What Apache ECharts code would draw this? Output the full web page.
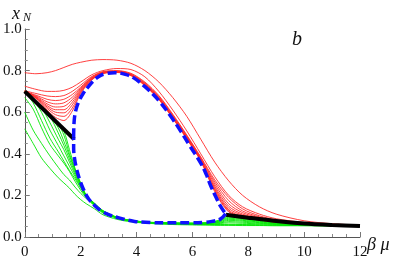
<!DOCTYPE html>
<html><head><meta charset="utf-8">
<script src="https://cdn.jsdelivr.net/npm/echarts@6/dist/echarts.min.js"></script>
<style>html,body{margin:0;padding:0;background:#fff}#c{width:399px;height:261px}</style>
</head><body><div id="c"></div>
<script>
// ---- data ----
const xTicks = [0, 2, 4, 6, 8, 10, 12];
const yTicks = [0.0, 0.2, 0.4, 0.6, 0.8, 1.0];

const redX = [0, 0.4, 0.8, 1.1, 1.4, 1.7, 2.0, 2.4, 2.8, 3.3, 3.8, 4.3, 4.8, 5.3, 5.8, 6.3, 6.8, 7.3, 7.8, 8.4, 9, 10, 11, 12];
const red0 = [.79, .785, .79, .80, .815, .83, .84, .85, .853, .85, .835, .80, .745, .67, .58, .47, .36, .27, .2, .145, .11, .078, .064, .057];
const red1 = [.725, .71, .70, .70, .705, .72, .745, .78, .80, .81, .805, .77, .70, .61, .51, .40, .29, .20, .145, .11, .088, .07, .061, .056];
const red2 = [.703, .69, .678, .675, .68, .70, .73, .772, .795, .80, .787, .745, .68, .59, .49, .385, .275, .19, .135, .102, .083, .067, .06, .056];
const red3 = [.70, .682, .662, .656, .662, .685, .72, .768, .793, .798, .784, .741, .676, .586, .487, .381, .265, .175, .125, .097, .08, .066, .059, .056];
const red4 = [.70, .678, .65, .64, .645, .672, .715, .765, .791, .796, .782, .738, .672, .582, .483, .377, .255, .16, .117, .093, .078, .065, .059, .055];
const red5 = [.70, .675, .64, .625, .628, .66, .71, .763, .79, .795, .78, .735, .669, .579, .48, .374, .245, .148, .11, .09, .076, .064, .058, .055];
const red6 = [.70, .672, .632, .612, .612, .648, .705, .761, .789, .794, .779, .733, .667, .576, .477, .371, .237, .138, .105, .087, .074, .063, .058, .055];
const red7 = [.70, .67, .625, .60, .597, .635, .70, .759, .788, .793, .778, .731, .665, .574, .475, .369, .23, .13, .10, .085, .073, .063, .057, .055];
const red8 = [.70, .668, .618, .588, .58, .62, .695, .757, .787, .792, .777, .729, .663, .572, .473, .367, .224, .124, .097, .083, .072, .062, .057, .055];
const red9 = [.70, .666, .61, .575, .56, .605, .69, .755, .786, .791, .776, .727, .661, .57, .471, .365, .218, .12, .095, .082, .071, .062, .057, .055];

const greenX = [0, 0.3, 0.6, 0.9, 1.2, 1.4, 1.6, 1.8, 2.0, 2.2, 2.5, 2.8, 3.3, 3.8, 4.5, 5.3, 6.0, 6.6, 7.0, 7.3, 7.8, 8.4, 9, 10, 11, 12];
const green0 = [.52, .45, .38, .33, .285, .26, .235, .205, .18, .16, .135, .107, .085, .073, .065, .06, .058, .057, .056, .056, .055, .055, .054, .054, .053, .053];
const green1 = [.60, .514, .45, .39, .335, .30, .274, .24, .21, .185, .15, .115, .09, .076, .067, .062, .06, .059, .058, .058, .058, .057, .056, .055, .054, .054];
const green2 = [.67, .615, .525, .445, .39, .355, .315, .268, .225, .19, .152, .118, .092, .077, .068, .063, .061, .06, .06, .061, .06, .059, .058, .056, .055, .054];
const green3 = [.70, .645, .56, .475, .41, .365, .32, .28, .235, .195, .155, .121, .092, .077, .068, .065, .063, .063, .065, .068, .066, .063, .06, .057, .055, .054];
const green4 = [.70, .661, .60, .514, .44, .39, .34, .29, .24, .196, .157, .122, .093, .078, .069, .065, .064, .065, .068, .074, .071, .066, .062, .058, .056, .054];
const green5 = [.70, .661, .622, .55, .47, .42, .36, .30, .245, .197, .158, .123, .093, .078, .069, .066, .064, .066, .071, .08, .076, .069, .064, .059, .056, .055];
const green6 = [.70, .661, .622, .58, .50, .44, .375, .31, .25, .199, .159, .124, .094, .079, .07, .066, .065, .067, .074, .085, .08, .072, .066, .06, .057, .055];
const green7 = [.70, .661, .622, .583, .525, .46, .39, .32, .255, .20, .16, .125, .094, .079, .07, .067, .066, .068, .077, .09, .084, .075, .068, .061, .057, .055];
const green8 = [.70, .661, .622, .583, .543, .49, .40, .325, .258, .201, .161, .126, .095, .08, .07, .067, .066, .069, .08, .095, .088, .078, .07, .062, .058, .055];
const green9 = [.70, .661, .622, .583, .544, .51, .42, .33, .26, .202, .162, .127, .095, .08, .071, .068, .067, .07, .083, .10, .091, .08, .071, .063, .058, .055];

const blackLeftX = [0, 1.77];
const blackLeftY = [0.70, 0.47];
const blackRightX = [7.2, 8, 9, 10, 11, 12];
const blackRightY = [0.107, 0.093, 0.077, 0.065, 0.058, 0.053];

const blueTopX = [1.75, 1.77, 1.83, 1.93, 2.09, 2.27, 2.45, 2.65, 2.86, 3.22, 3.6, 3.9, 4.28, 4.6, 4.88, 5.2, 5.53, 5.9, 6.3, 6.5, 6.66, 6.85, 7.0, 7.19];
const blueTopY = [0.48, 0.56, 0.61, 0.65, 0.69, 0.722, 0.75, 0.772, 0.784, 0.79, 0.782, 0.765, 0.725, 0.685, 0.643, 0.585, 0.52, 0.44, 0.355, 0.30, 0.245, 0.19, 0.15, 0.112];
const blueBottomX = [7.19, 7.0, 6.7, 6.42, 6.0, 5.6, 5.0, 4.5, 3.93, 3.34, 3.0, 2.74, 2.5, 2.27, 2.1, 1.97, 1.85, 1.78, 1.75, 1.75];
const blueBottomY = [0.112, 0.086, 0.075, 0.07, 0.068, 0.068, 0.068, 0.07, 0.075, 0.093, 0.108, 0.125, 0.152, 0.186, 0.23, 0.274, 0.33, 0.38, 0.43, 0.48];

// ---- build chart ----
const pairs = (xs, ys) => xs.map((x, i) => [x, ys[i]]);
const redCurves = [red0, red1, red2, red3, red4, red5, red6, red7, red8, red9];
const greenCurves = [green0, green1, green2, green3, green4, green5, green6, green7, green8, green9];

const series = [];
greenCurves.forEach(ys => series.push({
  type: 'line', data: pairs(greenX, ys), showSymbol: false, smooth: 0.3,
  lineStyle: { color: '#00e600', width: 0.9 }, silent: true, z: 2
}));
redCurves.forEach(ys => series.push({
  type: 'line', data: pairs(redX, ys), showSymbol: false, smooth: 0.3,
  lineStyle: { color: '#ff2a2a', width: 0.9 }, silent: true, z: 3
}));
series.push({ type: 'line', data: pairs(blackLeftX, blackLeftY), showSymbol: false,
  lineStyle: { color: '#000', width: 4 }, silent: true, z: 4 });
series.push({ type: 'line', data: pairs(blackRightX, blackRightY), showSymbol: false, smooth: 0.3,
  lineStyle: { color: '#000', width: 4 }, silent: true, z: 4 });
series.push({ type: 'line', data: pairs(blueTopX, blueTopY), showSymbol: false, smooth: 0.4,
  lineStyle: { color: '#1010ff', width: 3.5, type: [9, 4] }, silent: true, z: 5 });
series.push({ type: 'line', data: pairs(blueBottomX, blueBottomY), showSymbol: false, smooth: 0.4,
  lineStyle: { color: '#1010ff', width: 3.5, type: [9, 4] }, silent: true, z: 5 });

const serif = 'Liberation Serif';
const chart = echarts.init(document.getElementById('c'), null, { renderer: 'canvas' });
chart.setOption({
  animation: false,
  backgroundColor: '#fff',
  grid: { left: 23, right: 39, top: 29, bottom: 24, containLabel: false },
  xAxis: {
    type: 'value', min: xTicks[0], max: xTicks[xTicks.length - 1], interval: 2,
    axisLine: { lineStyle: { color: '#555', width: 1 } },
    axisTick: { inside: true, length: 5, lineStyle: { color: '#777' } },
    minorTick: { show: true, splitNumber: 4, length: 3, lineStyle: { color: '#888' } },
    splitLine: { show: false },
    axisLabel: { margin: 8, fontFamily: serif, fontSize: 15, color: '#111' }
  },
  yAxis: {
    type: 'value', min: yTicks[0], max: yTicks[yTicks.length - 1], interval: 0.2,
    axisLine: { show: true, lineStyle: { color: '#555', width: 1 } },
    axisTick: { show: true, inside: true, length: 5, lineStyle: { color: '#777' } },
    minorTick: { show: true, splitNumber: 4, length: 3, lineStyle: { color: '#888' } },
    splitLine: { show: false },
    axisLabel: { margin: 3, fontFamily: serif, fontSize: 15, color: '#111', formatter: v => v.toFixed(1) }
  },
  graphic: [
    { type: 'text', x: 12, y: 14, style: { text: 'x', font: 'italic 18px "Liberation Serif"', fill: '#111', textVerticalAlign: 'middle' } },
    { type: 'text', x: 23, y: 17.5, style: { text: 'N', font: 'italic 12px "Liberation Serif"', fill: '#111', textVerticalAlign: 'middle' } },
    { type: 'text', x: 367, y: 245, style: { text: 'β μ', font: 'italic 18px "Liberation Serif"', fill: '#111', textVerticalAlign: 'middle' } },
    { type: 'text', x: 292, y: 40, style: { text: 'b', font: 'italic 20px "Liberation Serif"', fill: '#111', textVerticalAlign: 'middle' } }
  ],
  series: series
});
</script></body></html>
